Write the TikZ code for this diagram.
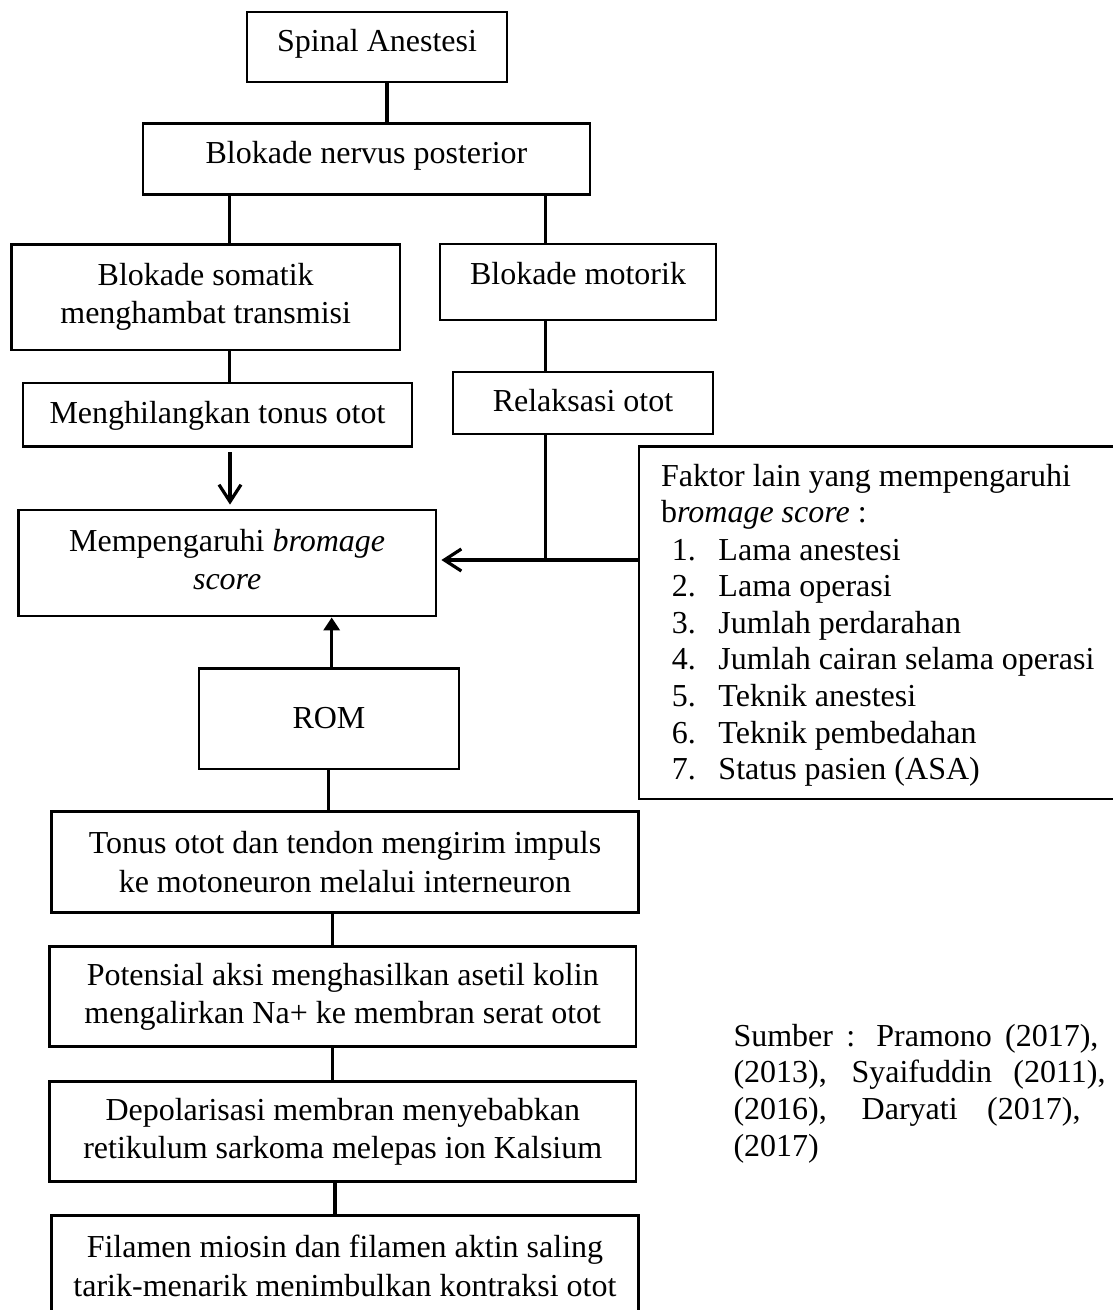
\documentclass[tikz,border=0pt]{standalone}
\usepackage{fontspec}
\setmainfont{Liberation Serif}
\usetikzlibrary{arrows.meta}
\begin{document}
\begin{tikzpicture}[x=1pt,y=-1pt,
  font=\fontsize{32}{38.3}\selectfont,
  sbox/.style={draw, line width=2.8pt, inner sep=0pt, text height=22pt, text depth=7pt},
  mbox/.style={draw, line width=2.8pt, inner sep=0pt, align=center},
  conn/.style={line width=3.2pt},
  openarr/.style={conn, -{Straight Barb[length=17pt,width=22pt]}},
  filledarr/.style={conn, -{Triangle[length=13pt,width=16pt]}},
  txt/.style={anchor=base west, inner sep=0pt}]
\useasboundingbox (0,0) rectangle (1113,1310);
\clip (0,0) rectangle (1113,1310);

% boxes
\node[sbox, minimum width=260pt, minimum height=70pt, text depth=12.6pt] (spinal) at (377,47) {Spinal Anestesi};
\node[sbox, minimum width=447pt, minimum height=71pt, text depth=13pt] (nervus) at (366.5,158.8) {Blokade nervus posterior};
\node[mbox, minimum width=388.6pt, minimum height=105.7pt] (somatik) at (205.7,297.15) {Blokade somatik\\menghambat transmisi};
\node[sbox, minimum width=276pt, minimum height=76pt, text depth=18pt] (motorik) at (578,282) {Blokade motorik};
\node[sbox, minimum width=389pt, minimum height=63.7pt, text depth=5.1pt] (hilang) at (217.5,414.85) {Menghilangkan tonus otot};
\node[sbox, minimum width=260pt, minimum height=62pt, text depth=4.6pt] (relaks) at (583,403) {Relaksasi otot};
\node[mbox, minimum width=417.7pt, minimum height=106pt] (bromage) at (227.15,563) {Mempengaruhi \textit{bromage}\\\textit{score}\vphantom{g}};
\node[sbox, minimum width=260pt, minimum height=100.5pt, text depth=2.9pt] (rom) at (329,718.75) {ROM};
\node[draw, line width=2.8pt, inner sep=0pt, minimum width=501pt, minimum height=352.3pt] (faktor) at (889.5,622.85) {};
\node[mbox, minimum width=586.9pt, minimum height=100.6pt] (tonus) at (344.95,862) {Tonus otot dan tendon mengirim impuls\\ke motoneuron melalui interneuron};
\node[mbox, minimum width=586.5pt, minimum height=100pt] (potensial) at (342.75,996.7) {Potensial aksi menghasilkan asetil kolin\\mengalirkan Na+ ke membran serat otot};
\node[mbox, minimum width=586.5pt, minimum height=100pt] (depol) at (342.75,1131.7) {Depolarisasi membran menyebabkan\\retikulum sarkoma melepas ion Kalsium};
\node[mbox, minimum width=586.9pt, minimum height=100.3pt] (filamen) at (344.95,1265.85) {Filamen miosin dan filamen aktin saling\\tarik-menarik menimbulkan kontraksi otot};

% text of the factor box
\node[txt] (f0) at (661,486.7) {Faktor lain yang mempengaruhi};
\node[txt] (f1) at (661,522.7) {b\textit{romage score} :};
\node[txt] (f2) at (671.7,560) {\makebox[46.6pt][l]{1.}Lama anestesi};
\node[txt] (f3) at (671.7,596.6) {\makebox[46.6pt][l]{2.}Lama operasi};
\node[txt] (f4) at (671.7,633.2) {\makebox[46.6pt][l]{3.}Jumlah perdarahan};
\node[txt] (f5) at (671.7,669.8) {\makebox[46.6pt][l]{4.}Jumlah cairan selama operasi};
\node[txt] (f6) at (671.7,706.4) {\makebox[46.6pt][l]{5.}Teknik anestesi};
\node[txt] (f7) at (671.7,743) {\makebox[46.6pt][l]{6.}Teknik pembedahan};
\node[txt] (f8) at (671.7,779.6) {\makebox[46.6pt][l]{7.}Status pasien (ASA)};

% source text
\node[txt] (s1) at (733.3,1046) {\makebox[365pt][s]{Sumber : Pramono (2017),}};
\node[txt] (s2) at (733.3,1082.7) {\makebox[372pt][s]{(2013), Syaifuddin (2011),}};
\node[txt] (s3) at (733.3,1119.3) {\makebox[347pt][s]{(2016), Daryati (2017),}};
\node[txt] (s4) at (733.3,1156) {(2017)};

% connector x positions
\coordinate (xA) at (387,0);
\coordinate (xB) at (229.3,0);
\coordinate (xC) at (545.7,0);
\coordinate (xD) at (230,0);
\coordinate (xE) at (331.7,0);
\coordinate (xF) at (328.3,0);
\coordinate (xG) at (332.3,0);
\coordinate (xH) at (335,0);
\coordinate (jn) at (545.7,560);

% connectors
\draw[conn] (spinal.south -| xA) -- (nervus.north -| xA);
\draw[conn] (nervus.south -| xB) -- (somatik.north -| xB);
\draw[conn] (somatik.south -| xB) -- (hilang.north -| xB);
\draw[conn] (nervus.south -| xC) -- (motorik.north -| xC);
\draw[conn] (motorik.south -| xC) -- (relaks.north -| xC);
\draw[conn] (relaks.south -| xC) -- (jn);
\draw[openarr, shorten <=4pt, shorten >=4pt] (hilang.south -| xD) -- (bromage.north -| xD);
\draw[openarr, shorten >=4pt] (faktor.west |- jn) -- (bromage.east |- jn);
\draw[filledarr] (rom.north -| xE) -- (bromage.south -| xE);
\draw[conn] (rom.south -| xF) -- (tonus.north -| xF);
\draw[conn] (tonus.south -| xG) -- (potensial.north -| xG);
\draw[conn] (potensial.south -| xG) -- (depol.north -| xG);
\draw[conn] (depol.south -| xH) -- (filamen.north -| xH);
\end{tikzpicture}
\end{document}
